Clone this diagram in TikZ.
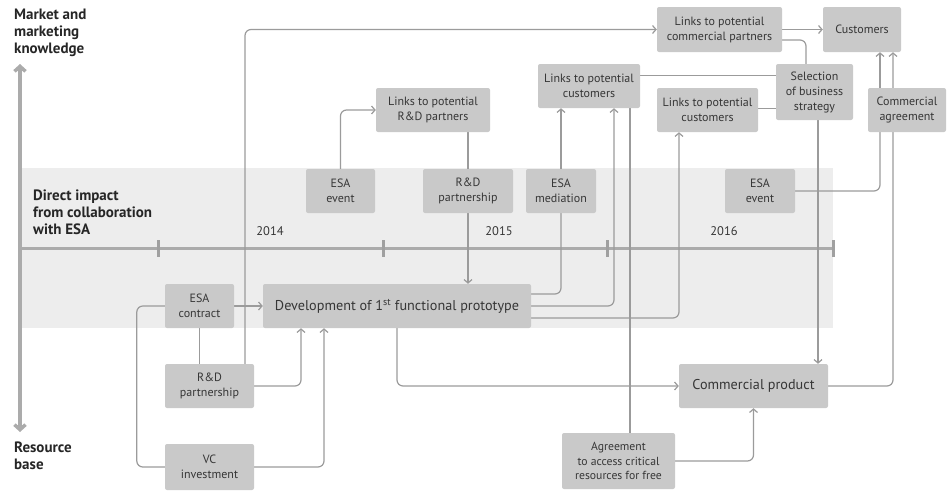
\documentclass[tikz,border=0pt]{standalone}
\usepackage{fontspec}
\setmainfont{PT Sans}
\usetikzlibrary{arrows.meta, backgrounds}
\definecolor{cBox}{HTML}{C9C9C9}
\definecolor{cBand}{HTML}{EDEDED}
\definecolor{cLine}{HTML}{9B9B9B}
\definecolor{cAxis}{HTML}{ABABAB}
\definecolor{cTick}{HTML}{A0A0A0}
\definecolor{cText}{HTML}{363636}
\tikzset{
  box/.style={fill=cBox, rounded corners=2pt, align=center, inner sep=0pt,
    text=cText, font=\fontsize{12}{15}\selectfont,
    minimum height=44pt, minimum width=70pt},
  bigbox/.style={box, font=\fontsize{14.2}{16}\selectfont},
  smallbox/.style={box, font=\fontsize{11.7}{14.5}\selectfont},
  link/.style={draw=cLine, line width=1.2pt, rounded corners=6pt},
  arrow/.style={link, -{Straight Barb[length=3.5pt, width=8pt]}},
  axisline/.style={draw=cAxis, line width=3.5pt,
    {Straight Barb[length=5pt, width=11pt]}-{Straight Barb[length=5pt, width=11pt]}},
  timeline/.style={draw=cAxis, line width=3pt},
  tickmark/.style={draw=cTick, line width=3pt},
  axislabel/.style={anchor=north west, align=left, text=black!85,
    font=\fontsize{15}{17}\selectfont\bfseries, inner sep=0pt},
  yearlabel/.style={text=cText, font=\fontsize{12.5}{14}\selectfont},
}

\begin{document}
\begin{tikzpicture}[x=1pt, y=-1pt]
  \useasboundingbox (0,0) rectangle (948,491);

  % ----------------------------------------------------------------
  % Band of direct ESA impact, time line and vertical axis
  % ----------------------------------------------------------------
  \begin{scope}[on background layer]
    \fill[cBand] (20,168) rectangle (833,328);
    \draw[timeline] (20,248) -- (833,248);
    \foreach \tx in {158,383,607,833}
      \draw[tickmark] (\tx,240) -- (\tx,257);
  \end{scope}

  \coordinate (axisTop) at (20,64);
  \coordinate (axisBot) at (20,432);
  \draw[axisline] (axisBot) -- (axisTop);

  \node[axislabel] (market) at (14,8.5) {Market and\\marketing\\knowledge};
  \node[axislabel] (resource) at (14,441.5) {Resource\\base};
  \node[axislabel] (impact) at (33,189.5) {Direct impact\\from collaboration\\with ESA};

  \node[yearlabel] (y2014) at (270,231) {2014};
  \node[yearlabel] (y2015) at (499,231) {2015};
  \node[yearlabel] (y2016) at (724,231) {2016};

  % ----------------------------------------------------------------
  % Boxes
  % ----------------------------------------------------------------
  \node[box, minimum width=69pt] (esaEventA) at (340.5,191) {ESA\\event};
  \node[box, minimum width=114pt] (linksRD) at (433,110) {Links to potential\\R\&D partners};
  \node[box, minimum width=90pt] (rdTop) at (468,191) {R\&D\\partnership};
  \node[box] (esaMed) at (561,191) {ESA\\mediation};
  \node[box, minimum width=102pt] (linksCustA) at (589,86) {Links to potential\\customers};
  \node[box, minimum width=125pt, minimum height=45pt] (linksComm) at (719.5,29.5)
    {Links to potential\\commercial partners};
  \node[box, minimum width=78pt, minimum height=45pt] (customers) at (862,29.5) {Customers};
  \node[box, minimum width=101pt] (linksCustB) at (707.5,110) {Links to potential\\customers};
  \node[box, minimum width=77pt, minimum height=56pt] (strategy) at (814.5,92)
    {Selection\\of business\\strategy};
  \node[box, minimum width=78pt] (commAgr) at (907,110) {Commercial\\agreement};
  \node[box] (esaEventB) at (760,191) {ESA\\event};

  \node[box, minimum width=69pt] (esaContract) at (199.5,306) {ESA\\contract};
  \node[bigbox, minimum width=268pt] (devProto) at (397,306)
    {Development of 1\textsuperscript{st} functional prototype};
  \node[box, minimum width=89pt] (rdBottom) at (209.5,386) {R\&D\\partnership};
  \node[box, minimum width=89pt, minimum height=46pt] (vcInvest) at (209.5,467) {VC\\investment};
  \node[bigbox, minimum width=149pt] (commProduct) at (753.5,386) {Commercial product};
  \node[smallbox, minimum width=113pt, minimum height=56pt] (agreement) at (618.5,461)
    {Agreement\\to access critical\\resources for free};

  % ----------------------------------------------------------------
  % Connectors
  % ----------------------------------------------------------------
  \begin{scope}[on background layer]
    \draw[arrow] (esaEventA.north) |- (linksRD.west);
    \draw[link] (rdTop.north |- linksRD.south) -- (rdTop.north);
    \draw[arrow] (rdTop.south) -- (rdTop.south |- devProto.north);
    \draw[arrow] (esaMed.north) -- (esaMed.north |- linksCustA.south);
    \draw[link] ([yshift=12pt]devProto.east) -| (esaMed.south);
    \draw[arrow] (devProto.east) -| ([xshift=25pt]linksCustA.south);
    \draw[arrow] ([yshift=-12pt]devProto.east) -| ([xshift=-28.5pt]linksCustB.south);
    \draw[link] ([yshift=10.5pt]linksCustA.east) -- ([yshift=10.5pt]linksCustA.east -| strategy.west);
    \draw[link] ([yshift=1.5pt]linksCustB.east) -- ([yshift=1.5pt]linksCustB.east -| strategy.west);
    \draw[arrow] (linksComm.east) -- (customers.west);
    \draw[link] ([yshift=-10.5pt]linksComm.east) -| ([xshift=-8.5pt]strategy.north);
    \draw[arrow] ([xshift=3.5pt]strategy.south) -- ([xshift=64.5pt]commProduct.north);
    \draw[link] ([xshift=41pt]linksCustA.south) -- ([xshift=11.5pt]agreement.north);
    \draw[arrow] (agreement.east) -| (commProduct.south);
    \draw[arrow] (commProduct.east) -| ([xshift=31pt]customers.south);
    \draw[arrow] ([xshift=-27pt]commAgr.north) -- ([xshift=18pt]customers.south);
    \draw[link] (esaEventB.east) -| ([xshift=-27pt]commAgr.south);
    \draw[arrow] ([xshift=35.5pt]rdBottom.north) |- (linksComm.west);
    \draw[arrow] (esaContract.east) -- (devProto.west);
    \draw[link] (esaContract.south) -- (esaContract.south |- rdBottom.north);
    \draw[arrow] (rdBottom.east) -| ([xshift=-96pt]devProto.south);
    \draw[arrow] (vcInvest.east) -| ([xshift=-73pt]devProto.south);
    \draw[link] (esaContract.west) -- ++(-28,0) |- (vcInvest.west);
    \draw[arrow] (devProto.south) |- (commProduct.west);
  \end{scope}

\end{tikzpicture}
\end{document}
